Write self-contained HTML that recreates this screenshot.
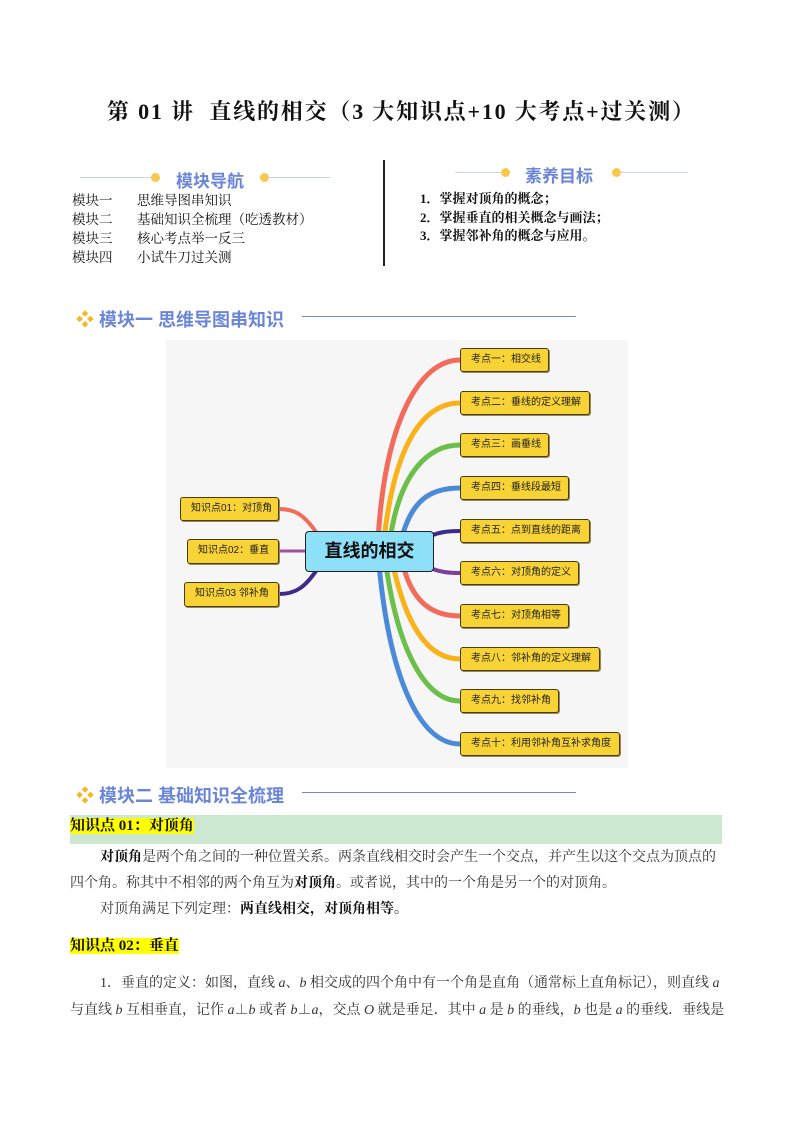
<!DOCTYPE html>
<html><head><meta charset="utf-8"><style>
*{margin:0;padding:0;box-sizing:border-box}
body{width:793px;height:1122px;background:#fff;position:relative;overflow:hidden;font-family:"Liberation Serif","Noto Serif CJK SC",serif;color:#111}
.a{position:absolute;white-space:nowrap}
.t{font-size:22px;font-weight:bold;left:107px;top:95px;letter-spacing:1.8px}
.s{font-size:13.5px;line-height:19.5px}
.h{font-family:"Liberation Sans","Noto Sans CJK SC",sans-serif;font-weight:bold;color:#6b86d8;font-size:16px}
.node{position:absolute;background:#f8d335;border:1.5px solid #4a3a10;border-radius:3px;font-family:"Liberation Sans","Noto Sans CJK SC",sans-serif;font-size:10px;line-height:21px;padding-left:10px;color:#222;box-shadow:1px 1px 0 #9a8a50}
.p{font-size:14px;color:#333;line-height:26px}
.hl{background:#ffff00;font-weight:bold;color:#111}
</style></head><body>
<div class="a t">第 01 讲&nbsp; 直线的相交（3 大知识点+10 大考点+过关测）</div>

<div class="a" style="left:80px;top:177px;width:72px;height:1px;background:#c8d4ec"></div>
<div class="a" style="left:151px;top:173px;width:9px;height:9px;border-radius:50%;background:#f9c94e"></div>
<div class="a h" style="left:176px;top:167px;font-size:17px">模块导航</div>
<div class="a" style="left:260px;top:173px;width:9px;height:9px;border-radius:50%;background:#f9c94e"></div>
<div class="a" style="left:268px;top:177px;width:62px;height:1px;background:#c8d4ec"></div>
<div class="a s" style="left:72px;top:191px">模块一</div>
<div class="a s" style="left:72px;top:210px">模块二</div>
<div class="a s" style="left:72px;top:229px">模块三</div>
<div class="a s" style="left:72px;top:248px">模块四</div>
<div class="a s" style="left:137px;top:191px">思维导图串知识</div>
<div class="a s" style="left:137px;top:210px">基础知识全梳理（吃透教材）</div>
<div class="a s" style="left:137px;top:229px">核心考点举一反三</div>
<div class="a s" style="left:137px;top:248px">小试牛刀过关测</div>
<div class="a" style="left:383px;top:160px;width:1.5px;height:106px;background:#222"></div>
<div class="a" style="left:455px;top:172px;width:48px;height:1px;background:#c8d4ec"></div>
<div class="a" style="left:501px;top:168px;width:9px;height:9px;border-radius:50%;background:#f9c94e"></div>
<div class="a h" style="left:525px;top:162px;font-size:17px">素养目标</div>
<div class="a" style="left:612px;top:168px;width:9px;height:9px;border-radius:50%;background:#f9c94e"></div>
<div class="a" style="left:620px;top:172px;width:68px;height:1px;background:#c8d4ec"></div>
<div class="a s" style="left:420px;top:190px;font-weight:bold;font-size:13px;line-height:18.5px">1．掌握对顶角的概念；<br>2．掌握垂直的相关概念与画法；<br>3．掌握邻补角的概念与应用。</div>

<div class="a h" style="left:76px;top:306px;font-size:18px"><span style="color:#f5b820">❖</span> 模块一 思维导图串知识</div>
<div class="a" style="left:302px;top:316px;width:274px;height:1px;background:#6b8ccf"></div>

<div class="a" style="left:166px;top:340px;width:462px;height:428px;background:#f6f6f6"></div>
<svg class="a" style="left:0;top:0" width="793" height="1122">
<g fill="none" stroke-linecap="round">
<path d="M378,540 C385,420 420,360 460,360" stroke="#f26b5b" stroke-width="5"/>
<path d="M384,540 C395,440 425,403 460,403" stroke="#f9b219" stroke-width="5"/>
<path d="M390,540 C400,470 430,445 460,445" stroke="#6cc04a" stroke-width="5"/>
<path d="M400,545 C410,500 430,488 460,488" stroke="#4a8ad8" stroke-width="5"/>
<path d="M430,536 C440,532 448,531 460,531" stroke="#3e2a8a" stroke-width="4"/>
<path d="M430,568 C440,572 448,573 460,573" stroke="#7b3f9e" stroke-width="4"/>
<path d="M403,565 C412,600 430,616 460,616" stroke="#f26b5b" stroke-width="5"/>
<path d="M393,565 C405,620 425,659 460,659" stroke="#f9b219" stroke-width="5"/>
<path d="M386,565 C398,650 425,701 460,701" stroke="#6cc04a" stroke-width="5"/>
<path d="M379,565 C390,680 420,744 460,744" stroke="#4a8ad8" stroke-width="5"/>
<path d="M318,535 C305,515 295,509 279,509" stroke="#f26b5b" stroke-width="4"/>
<path d="M305,551 L279,551" stroke="#a24fa0" stroke-width="3"/>
<path d="M318,568 C305,588 295,594 279,594" stroke="#3e2a8a" stroke-width="4"/>
</g>
</svg>
<div class="a" style="left:305px;top:531px;width:129px;height:41px;background:#8ee0f8;border:1.5px solid #222;border-radius:4px;font-family:'Liberation Sans','Noto Sans CJK SC',sans-serif;font-weight:bold;font-size:18px;text-align:center;line-height:38px">直线的相交</div>
<div class="node" style="left:460px;top:348px;width:89px;height:24px">考点一：相交线</div>
<div class="node" style="left:460px;top:391px;width:130px;height:24px">考点二：垂线的定义理解</div>
<div class="node" style="left:460px;top:433px;width:89px;height:24px">考点三：画垂线</div>
<div class="node" style="left:460px;top:476px;width:109px;height:24px">考点四：垂线段最短</div>
<div class="node" style="left:460px;top:519px;width:130px;height:24px">考点五：点到直线的距离</div>
<div class="node" style="left:460px;top:561px;width:119px;height:24px">考点六：对顶角的定义</div>
<div class="node" style="left:460px;top:604px;width:109px;height:24px">考点七：对顶角相等</div>
<div class="node" style="left:460px;top:647px;width:140px;height:24px">考点八：邻补角的定义理解</div>
<div class="node" style="left:460px;top:689px;width:99px;height:24px">考点九：找邻补角</div>
<div class="node" style="left:460px;top:732px;width:160px;height:24px">考点十：利用邻补角互补求角度</div>
<div class="node" style="left:180px;top:497px;width:99px;height:24px">知识点01：对顶角</div>
<div class="node" style="left:187px;top:539px;width:92px;height:25px">知识点02：垂直</div>
<div class="node" style="left:184px;top:582px;width:95px;height:25px">知识点03 邻补角</div>

<div class="a h" style="left:76px;top:782px;font-size:18px"><span style="color:#f5b820">❖</span> 模块二 基础知识全梳理</div>
<div class="a" style="left:302px;top:792px;width:274px;height:1px;background:#6b8ccf"></div>
<div class="a" style="left:70px;top:815px;width:652px;height:29px;background:#cde8d0"></div>
<div class="a" style="left:70px;top:815px;font-size:15px;line-height:22px"><span class="hl">知识点 01：对顶角</span></div>
<div class="a p" style="left:100px;top:845px"><b style="color:#111">对顶角</b>是两个角之间的一种位置关系。两条直线相交时会产生一个交点，并产生以这个交点为顶点的</div>
<div class="a p" style="left:70px;top:871px">四个角。称其中不相邻的两个角互为<b style="color:#111">对顶角</b>。或者说，其中的一个角是另一个的对顶角。</div>
<div class="a p" style="left:100px;top:897px">对顶角满足下列定理：<b style="color:#111">两直线相交，对顶角相等。</b></div>
<div class="a" style="left:70px;top:935px;font-size:15px;line-height:22px"><span class="hl">知识点 02：垂直</span></div>
<div class="a p" style="left:100px;top:971px">1．垂直的定义：如图，直线 <i>a</i>、<i>b</i> 相交成的四个角中有一个角是直角（通常标上直角标记），则直线 <i>a</i></div>
<div class="a p" style="left:70px;top:998px">与直线 <i>b</i> 互相垂直，记作 <i>a</i>⊥<i>b</i> 或者 <i>b</i>⊥<i>a</i>，交点 <i>O</i> 就是垂足．其中 <i>a</i> 是 <i>b</i> 的垂线，<i>b</i> 也是 <i>a</i> 的垂线．垂线是</div>
</body></html>
